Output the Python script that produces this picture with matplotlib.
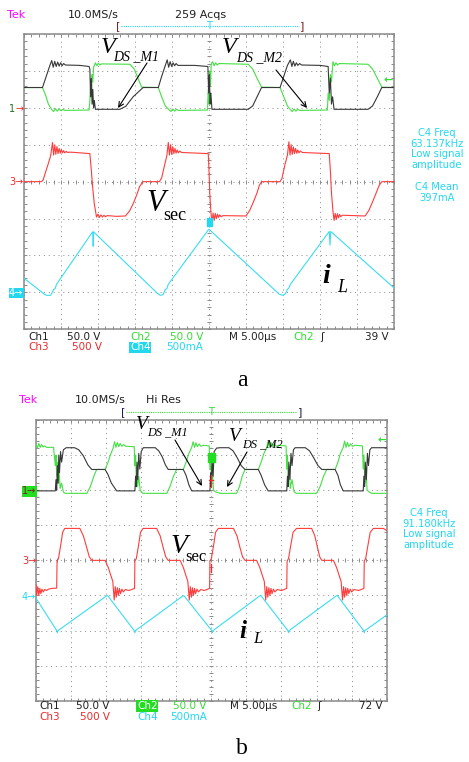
import numpy as np
import matplotlib
matplotlib.use("Agg")
import matplotlib.pyplot as plt
from matplotlib.ticker import MultipleLocator
from matplotlib.patches import Rectangle

W, H = 469, 762

# ---- traces, in scope divisions (x: 0..10, y: -4..4) ----
# panel a
a_ch1 = [(0.0, 2.55), (0.50, 2.55), (0.60, 2.85), (0.70, 3.15), (0.75, 3.28),
         (0.79, 3.10), (0.83, 3.26), (0.87, 3.12), (0.91, 3.24), (0.95, 3.13),
         (0.99, 3.22), (1.03, 3.14), (1.07, 3.20), (1.12, 3.16), (1.50, 3.15),
         (1.76, 3.12), (1.78, 3.05), (1.80, 2.30), (1.82, 2.80), (1.84, 2.10),
         (1.86, 2.50), (1.88, 2.00), (1.90, 2.20), (1.93, 1.96), (2.59, 1.96),
         (2.75, 2.04), (2.95, 2.30), (3.22, 2.55), (3.63, 2.55), (3.72, 2.85),
         (3.82, 3.15), (3.87, 3.30), (3.91, 3.10), (3.95, 3.25), (3.99, 3.12),
         (4.03, 3.22), (4.07, 3.14), (4.11, 3.20), (4.16, 3.15), (4.60, 3.15),
         (4.97, 3.12), (4.99, 2.40), (5.01, 2.90), (5.03, 2.10), (5.05, 2.40),
         (5.08, 1.96), (6.06, 1.96), (6.18, 2.05), (6.30, 2.30), (6.42, 2.55),
         (6.92, 2.55), (7.02, 2.85), (7.12, 3.15), (7.20, 3.30), (7.24, 3.12),
         (7.28, 3.26), (7.32, 3.13), (7.36, 3.22), (7.40, 3.15), (7.45, 3.20),
         (7.50, 3.16), (8.00, 3.15), (8.22, 3.12), (8.25, 2.40), (8.28, 2.80),
         (8.31, 2.10), (8.34, 2.30), (8.38, 1.96), (9.30, 1.96), (9.42, 2.05),
         (9.55, 2.30), (9.67, 2.55), (10.0, 2.55)]
a_ch2 = [(0.0, 2.55), (0.50, 2.55), (0.58, 2.35), (0.66, 2.10), (0.75, 1.95),
         (0.80, 1.90), (0.85, 1.98), (0.90, 1.91), (0.95, 1.97), (1.00, 1.92),
         (1.05, 1.96), (1.10, 1.93), (1.76, 1.94), (1.78, 2.20), (1.80, 2.60),
         (1.82, 2.30), (1.84, 2.90), (1.86, 2.70), (1.88, 3.10), (1.93, 3.22),
         (1.97, 3.14), (2.01, 3.21), (2.05, 3.16), (2.10, 3.19), (2.86, 3.18),
         (2.98, 3.05), (3.08, 2.80), (3.18, 2.56), (3.63, 2.55), (3.72, 2.30),
         (3.82, 2.05), (3.92, 1.95), (3.97, 1.90), (4.02, 1.97), (4.07, 1.91),
         (4.12, 1.96), (4.17, 1.93), (4.96, 1.94), (4.98, 2.50), (5.00, 2.10),
         (5.02, 3.00), (5.04, 2.60), (5.06, 3.20), (5.10, 3.25), (5.14, 3.14),
         (5.18, 3.22), (5.22, 3.16), (5.27, 3.20), (6.06, 3.18), (6.18, 3.05),
         (6.30, 2.80), (6.42, 2.56), (6.92, 2.55), (7.02, 2.30), (7.12, 2.05),
         (7.20, 1.95), (7.25, 1.90), (7.30, 1.97), (7.35, 1.91), (7.40, 1.96),
         (7.45, 1.93), (8.20, 1.94), (8.22, 2.40), (8.25, 2.20), (8.28, 2.90),
         (8.31, 2.70), (8.35, 3.25), (8.39, 3.14), (8.43, 3.22), (8.47, 3.16),
         (8.52, 3.20), (9.30, 3.18), (9.42, 3.05), (9.55, 2.80), (9.67, 2.56),
         (10.0, 2.55)]
a_ch3 = [(0.0, 0.0), (0.47, 0.0), (0.52, 0.05), (0.58, 0.25), (0.66, 0.50),
         (0.72, 0.70), (0.77, 1.06), (0.80, 0.72), (0.83, 1.00), (0.86, 0.74),
         (0.89, 0.95), (0.92, 0.76), (0.95, 0.90), (0.98, 0.77), (1.01, 0.87),
         (1.04, 0.78), (1.07, 0.84), (1.10, 0.78), (1.14, 0.82), (1.18, 0.79),
         (1.25, 0.80), (1.78, 0.76), (1.82, 0.30), (1.86, -0.20), (1.90, -0.60),
         (1.96, -0.96), (2.00, -0.88), (2.04, -0.97), (2.08, -0.90), (2.12, -0.96),
         (2.16, -0.91), (2.20, -0.95), (2.25, -0.92), (2.50, -0.94), (2.74, -0.93),
         (2.85, -0.80), (2.95, -0.60), (3.05, -0.35), (3.13, -0.12), (3.22, 0.0),
         (3.66, 0.0), (3.72, 0.10), (3.80, 0.45), (3.86, 0.70), (3.90, 1.06),
         (3.93, 0.72), (3.96, 1.00), (3.99, 0.74), (4.02, 0.95), (4.05, 0.76),
         (4.08, 0.90), (4.11, 0.77), (4.14, 0.86), (4.17, 0.78), (4.21, 0.83),
         (4.26, 0.79), (4.98, 0.76), (5.00, 0.30), (5.02, -0.30), (5.05, -0.80),
         (5.08, -1.12), (5.11, -0.85), (5.14, -1.05), (5.17, -0.86), (5.20, -1.00),
         (5.23, -0.88), (5.26, -0.97), (5.29, -0.90), (5.33, -0.95), (5.38, -0.92),
         (6.00, -0.93), (6.10, -0.78), (6.20, -0.55), (6.30, -0.30), (6.36, -0.10),
         (6.42, 0.0), (6.92, 0.0), (6.97, 0.08), (7.05, 0.45), (7.12, 0.72),
         (7.16, 1.08), (7.19, 0.72), (7.22, 1.00), (7.25, 0.74), (7.28, 0.94),
         (7.31, 0.76), (7.34, 0.90), (7.37, 0.77), (7.40, 0.86), (7.43, 0.78),
         (7.47, 0.83), (7.52, 0.79), (8.25, 0.76), (8.28, 0.30), (8.31, -0.30),
         (8.35, -0.80), (8.38, -1.05), (8.41, -0.86), (8.44, -1.02), (8.47, -0.87),
         (8.50, -0.98), (8.53, -0.89), (8.56, -0.95), (8.60, -0.91), (9.22, -0.93),
         (9.32, -0.78), (9.42, -0.55), (9.52, -0.30), (9.60, -0.10), (9.67, 0.0),
         (10.0, 0.0)]
a_ch4 = [(0.0, -2.62), (0.30, -2.85), (0.55, -3.05), (0.61, -3.08), (0.72, -3.08),
         (0.80, -2.92), (0.84, -2.90), (0.88, -2.78), (1.84, -1.38), (1.86, -1.36),
         (1.87, -1.75), (1.88, -1.36), (3.60, -3.02), (3.68, -3.08), (3.76, -3.06),
         (3.82, -2.92), (3.86, -2.90), (3.90, -2.78), (4.98, -1.31), (5.00, -1.29),
         (6.90, -3.05), (7.00, -3.08), (7.06, -3.04), (7.12, -2.92), (7.16, -2.88),
         (7.20, -2.78), (8.25, -1.35), (8.27, -1.72), (8.29, -1.35), (10.0, -2.88)]

# panel b
b_ch1 = [(0.0, 1.98), (0.55, 1.98), (0.57, 2.30), (0.59, 2.00), (0.61, 2.70),
         (0.63, 2.20), (0.65, 3.00), (0.67, 2.50), (0.70, 3.10), (0.73, 2.80),
         (0.78, 3.15), (0.86, 3.21), (1.10, 3.21), (1.22, 3.15), (1.35, 2.98),
         (1.48, 2.72), (1.59, 2.59), (1.97, 2.59), (2.05, 2.45), (2.15, 2.20),
         (2.30, 1.98), (2.82, 1.98), (2.84, 2.40), (2.86, 2.10), (2.88, 2.80),
         (2.90, 2.30), (2.93, 3.05), (2.96, 2.60), (3.00, 3.10), (3.06, 3.21),
         (3.40, 3.21), (3.50, 3.12), (3.60, 2.95), (3.69, 2.72), (3.77, 2.59),
         (4.20, 2.59), (4.28, 2.42), (4.36, 2.15), (4.44, 1.98), (4.96, 1.98),
         (4.98, 2.50), (5.00, 2.10), (5.02, 2.90), (5.05, 2.40), (5.08, 3.10),
         (5.15, 3.20), (5.25, 3.21), (5.50, 3.21), (5.62, 3.12), (5.74, 2.92),
         (5.85, 2.70), (5.96, 2.59), (6.34, 2.59), (6.42, 2.42), (6.52, 2.15),
         (6.62, 1.98), (7.15, 1.98), (7.17, 2.40), (7.19, 2.10), (7.21, 2.80),
         (7.24, 2.30), (7.27, 3.05), (7.30, 2.70), (7.34, 3.15), (7.39, 3.21),
         (7.68, 3.21), (7.80, 3.12), (7.92, 2.92), (8.04, 2.70), (8.15, 2.59),
         (8.53, 2.59), (8.61, 2.42), (8.68, 2.15), (8.76, 1.98), (9.33, 1.98),
         (9.35, 2.40), (9.37, 2.10), (9.39, 2.80), (9.42, 2.30), (9.45, 3.05),
         (9.48, 2.70), (9.52, 3.15), (9.57, 3.21), (10.0, 3.21)]
b_ch2 = [(0.0, 3.30), (0.04, 3.20), (0.08, 3.33), (0.12, 3.22), (0.16, 3.30),
         (0.20, 3.23), (0.25, 3.26), (0.30, 3.22), (0.50, 3.22), (0.55, 2.70),
         (0.57, 3.00), (0.59, 2.40), (0.61, 2.80), (0.63, 2.20), (0.66, 2.50),
         (0.69, 2.05), (0.73, 2.20), (0.78, 1.95), (0.83, 1.91), (1.45, 1.91),
         (1.55, 2.10), (1.65, 2.40), (1.73, 2.59), (1.97, 2.59), (2.05, 2.78),
         (2.12, 3.00), (2.20, 3.20), (2.24, 3.38), (2.28, 3.22), (2.32, 3.36),
         (2.36, 3.24), (2.40, 3.33), (2.45, 3.25), (2.50, 3.30), (2.56, 3.25),
         (2.80, 3.24), (2.82, 2.70), (2.84, 3.00), (2.86, 2.30), (2.88, 2.70),
         (2.90, 2.10), (2.93, 2.40), (2.97, 2.00), (3.02, 1.93), (3.06, 1.91),
         (3.73, 1.91), (3.82, 2.10), (3.92, 2.40), (4.01, 2.59), (4.20, 2.59),
         (4.28, 2.80), (4.36, 3.05), (4.44, 3.22), (4.48, 3.38), (4.52, 3.22),
         (4.56, 3.35), (4.60, 3.24), (4.65, 3.32), (4.70, 3.25), (4.78, 3.28),
         (4.94, 3.26), (4.96, 2.60), (4.98, 3.00), (5.00, 2.20), (5.03, 2.60),
         (5.06, 2.00), (5.12, 1.95), (5.25, 1.91), (5.72, 1.91), (5.80, 2.10),
         (5.88, 2.40), (5.96, 2.59), (6.34, 2.59), (6.42, 2.80), (6.50, 3.05),
         (6.58, 3.22), (6.62, 3.40), (6.66, 3.22), (6.70, 3.36), (6.74, 3.24),
         (6.79, 3.32), (6.85, 3.25), (6.92, 3.28), (7.13, 3.26), (7.15, 2.60),
         (7.17, 3.00), (7.19, 2.30), (7.22, 2.70), (7.25, 2.05), (7.30, 2.30),
         (7.36, 1.95), (7.43, 1.91), (8.00, 1.91), (8.10, 2.10), (8.20, 2.40),
         (8.29, 2.59), (8.53, 2.59), (8.61, 2.80), (8.68, 3.05), (8.76, 3.22),
         (8.80, 3.40), (8.84, 3.22), (8.88, 3.36), (8.92, 3.24), (8.97, 3.32),
         (9.03, 3.25), (9.10, 3.28), (9.31, 3.26), (9.33, 2.60), (9.35, 3.00),
         (9.38, 2.20), (9.41, 2.60), (9.44, 2.00), (9.50, 1.95), (9.57, 1.91),
         (10.0, 1.91)]
b_ch3 = [(0.0, -0.70), (0.02, -1.00), (0.05, -0.75), (0.08, -1.00), (0.11, -0.80),
         (0.14, -0.95), (0.17, -0.82), (0.21, -0.90), (0.25, -0.83), (0.30, -0.86),
         (0.36, -0.82), (0.45, -0.80), (0.59, -0.79), (0.60, -0.02), (0.64, 0.05),
         (0.70, 0.40), (0.76, 0.80), (0.82, 0.91), (1.25, 0.91), (1.35, 0.70),
         (1.45, 0.35), (1.52, 0.10), (1.59, 0.0), (1.97, 0.0), (2.06, -0.20),
         (2.14, -0.45), (2.19, -0.60), (2.23, -1.13), (2.26, -0.75), (2.29, -1.05),
         (2.32, -0.78), (2.35, -1.00), (2.38, -0.80), (2.41, -0.95), (2.45, -0.82),
         (2.49, -0.90), (2.55, -0.83), (2.65, -0.86), (2.81, -0.80), (2.82, -0.02),
         (2.86, 0.05), (2.92, 0.40), (2.98, 0.80), (3.05, 0.91), (3.44, 0.91),
         (3.54, 0.70), (3.63, 0.35), (3.70, 0.10), (3.77, 0.0), (4.11, 0.0),
         (4.20, -0.20), (4.28, -0.45), (4.33, -0.60), (4.37, -1.13), (4.40, -0.75),
         (4.43, -1.05), (4.46, -0.78), (4.49, -1.00), (4.52, -0.80), (4.55, -0.95),
         (4.59, -0.82), (4.63, -0.90), (4.70, -0.83), (4.80, -0.86), (4.95, -0.80),
         (4.96, -0.02), (5.00, 0.05), (5.06, 0.40), (5.12, 0.80), (5.20, 0.91),
         (5.63, 0.91), (5.73, 0.70), (5.82, 0.35), (5.89, 0.10), (5.96, 0.0),
         (6.29, 0.0), (6.38, -0.20), (6.46, -0.45), (6.51, -0.60), (6.55, -1.13),
         (6.58, -0.75), (6.61, -1.05), (6.64, -0.78), (6.67, -1.00), (6.70, -0.80),
         (6.73, -0.95), (6.77, -0.82), (6.81, -0.90), (6.88, -0.83), (7.00, -0.86),
         (7.15, -0.80), (7.16, -0.02), (7.20, 0.05), (7.26, 0.40), (7.33, 0.80),
         (7.43, 0.91), (7.86, 0.91), (7.95, 0.70), (8.03, 0.35), (8.09, 0.10),
         (8.15, 0.0), (8.48, 0.0), (8.57, -0.20), (8.65, -0.45), (8.70, -0.60),
         (8.74, -1.13), (8.77, -0.75), (8.80, -1.05), (8.83, -0.78), (8.86, -1.00),
         (8.89, -0.80), (8.92, -0.95), (8.96, -0.82), (9.00, -0.90), (9.07, -0.83),
         (9.20, -0.86), (9.35, -0.80), (9.36, -0.02), (9.40, 0.05), (9.46, 0.40),
         (9.53, 0.80), (9.62, 0.91), (9.90, 0.91), (10.0, 0.85)]
b_ch4 = [(0.0, -1.08), (0.59, -2.00), (0.61, -2.06), (0.63, -2.00), (2.00, -1.02),
         (2.04, -1.00), (2.80, -2.00), (2.82, -2.06), (2.84, -2.00), (4.18, -1.02),
         (4.22, -1.01), (5.01, -2.00), (5.03, -2.06), (5.05, -2.00), (6.37, -1.02),
         (6.41, -1.00), (7.18, -2.00), (7.20, -2.06), (7.22, -2.00), (8.55, -1.02),
         (8.59, -1.00), (9.34, -2.00), (9.36, -2.06), (9.38, -2.00), (10.0, -1.56)]

# readouts
a_bottom1 = [("Ch1", 28, "k"), ("50.0 V", 67, "k"), ("Ch2", 130, "g"), ("50.0 V", 170, "g"),
             ("M 5.00\u00b5s", 229, "k"), ("Ch2", 293, "g"), ("\u0283", 320, "k"), ("39 V", 365, "k")]
a_bottom2 = [("Ch3", 28, "r"), ("500 V", 72, "r"), ("500mA", 166, "c")]
b_bottom1 = [("Ch1", 39, "k"), ("50.0 V", 76, "k"), ("50.0 V", 173, "g"),
             ("M 5.00\u00b5s", 230, "k"), ("Ch2", 291, "g"), ("\u0283", 317, "k"), ("72 V", 359, "k")]
b_bottom2 = [("Ch3", 39, "r"), ("500 V", 80, "r"), ("Ch4", 137, "c"), ("500mA", 170, "c")]
a_meas = ["C4 Freq", "63.137kHz", "Low signal", "amplitude", "C4 Mean", "397mA"]
b_meas = ["C4 Freq", "91.180kHz", "Low signal", "amplitude"]

COL = {"k": "#202020", "g": "#33dd33", "r": "#ee2a2a", "c": "#22d8ee"}
TRACE = {"k": "#383838", "g": "#44e044", "r": "#ff3c3c", "c": "#3adcf2"}
GRID = "#8a8a8a"
SERIF = "Liberation Serif"

plt.rcParams["font.family"] = ["DejaVu Sans"]


def unzip(pts):
    return [p[0] for p in pts], [p[1] for p in pts]


def graticule(ax):
    ax.set_xlim(0, 10)
    ax.set_ylim(-4, 4)
    ax.set_xticks(range(11))
    ax.set_yticks(range(-4, 5))
    ax.xaxis.set_minor_locator(MultipleLocator(0.2))
    ax.yaxis.set_minor_locator(MultipleLocator(0.2))
    ax.tick_params(which="both", direction="in", length=2.2, width=0.7, color=GRID,
                   top=True, right=True, labelbottom=False, labelleft=False)
    ax.grid(True, which="major", color=GRID, lw=0.7, ls=(0, (1, 4)))
    for s in ax.spines.values():
        s.set_color(GRID)
        s.set_linewidth(1.1)
    # centre crosshair with 0.2 div ticks
    xs = np.arange(0, 10.01, 0.2)
    ys = np.arange(-4, 4.01, 0.2)
    ax.plot(xs, np.zeros_like(xs), ls="none", marker="|", ms=3.2, mew=0.7, color=GRID)
    ax.plot(np.full_like(ys, 5.0), ys, ls="none", marker="_", ms=3.2, mew=0.7, color=GRID)


def traces(ax, chans):
    for pts, c in chans:
        t, v = unzip(pts)
        ax.plot(t, v, color=TRACE[c], lw=0.8, zorder=3)


fig = plt.figure(figsize=(W / 100, H / 100), dpi=100)
axa = fig.add_axes([24 / W, 1 - 329.3 / H, 370 / W, 295.3 / H])
axb = fig.add_axes([36 / W, 1 - 700.7 / H, 350.7 / W, 280.7 / H])
for ax in (axa, axb):
    graticule(ax)
traces(axa, [(a_ch4, "c"), (a_ch3, "r"), (a_ch2, "g"), (a_ch1, "k")])
traces(axb, [(b_ch4, "c"), (b_ch3, "r"), (b_ch2, "g"), (b_ch1, "k")])

# overlay in pixel coordinates for all the annotation
ov = fig.add_axes([0, 0, 1, 1])
ov.set_xlim(0, W)
ov.set_ylim(H, 0)
ov.axis("off")
ov.patch.set_visible(False)


def t(x, y, s, size=7.5, color="#202020", ha="left", va="center", **kw):
    ov.text(x, y, s, fontsize=size, color=color, ha=ha, va=va, **kw)


def header(y, items, brk, tcol, bcol):
    t(items[0][1], y, items[0][0], size=8, color="#ff00ff")
    for s, x in items[1:]:
        t(x, y, s, size=8)
    yb, x0, x1, xt = brk
    t(x0, yb, "[", size=8, color=bcol, ha="center")
    t(x1, yb, "]", size=8, color=bcol, ha="center")
    ov.plot([x0 + 3, x1 - 3], [yb, yb], color=tcol, lw=0.8, ls=(0, (1, 1)))
    t(xt, yb, "T", size=7, color=tcol, ha="center")


header(15, [("Tek", 7), ("10.0MS/s", 68), ("259 Acqs", 175)], (26, 118, 302, 209),
       COL["c"], "#802020")
header(400, [("Tek", 19), ("10.0MS/s", 75), ("Hi Res", 146)], (412, 123, 300, 211),
       COL["g"], "#202050")

# bottom readouts
for s, x, c in a_bottom1:
    t(x, 336.5, s, color=COL[c])
for s, x, c in a_bottom2:
    t(x, 347.5, s, color=COL[c])
t(130, 347.5, "Ch4", color="white", bbox=dict(fc=COL["c"], ec="none", pad=0.4))
for s, x, c in b_bottom1:
    t(x, 706, s, color=COL[c])
t(137, 706, "Ch2", color="white", bbox=dict(fc="#22dd22", ec="none", pad=0.4))
for s, x, c in b_bottom2:
    t(x, 716.5, s, color=COL[c])

# measurement readouts
for s, y in zip(a_meas, [133.3, 143.8, 154.3, 164.8, 187.3, 198.3]):
    t(437, y, s, size=7.2, color=COL["c"], ha="center")
for s, y in zip(b_meas, [513.3, 523.8, 534.3, 544.8]):
    t(429, y, s, size=7.2, color=COL["c"], ha="center")

# channel ground markers
t(9, 109, "1", size=7, color="#207020")
t(15, 109, "\u2192", size=7, color=COL["r"])
t(9, 182, "3\u2192", size=7, color=COL["r"])
t(9, 293, "4\u2192", size=7, color="white", bbox=dict(fc=COL["c"], ec="none", pad=0.3))
t(22, 491.5, "1\u2192", size=7, color="#802020", bbox=dict(fc="#22dd22", ec="none", pad=0.3))
t(22, 561, "3\u2192", size=7, color=COL["r"])
t(22, 597, "4\u2192", size=7, color=COL["c"])
t(393, 80, "\u2190", size=8, color=COL["g"], ha="right", weight="bold")
t(387, 440, "\u2190", size=8, color=COL["g"], ha="right", weight="bold")
ov.add_patch(Rectangle((206.5, 218), 5, 8, color=COL["c"], zorder=4))
ov.add_patch(Rectangle((207.5, 453), 7, 9, color="#22dd22", zorder=4))
ov.plot([211, 211], [475, 487], color=COL["r"], lw=0.9)
ov.plot([209, 213], [480, 480], color=COL["r"], lw=0.9)
ov.plot([211, 211], [564, 572], color=COL["r"], lw=0.9)

# waveform labels
def vlabel(x, y, big, sub, xs, ys, bsize, ssize, bold=False, sub_italic=True):
    ov.text(x, y, big, fontsize=bsize, family=SERIF, style="italic",
            weight="bold" if bold else "normal", va="baseline")
    ov.text(xs, ys, sub, fontsize=ssize, family=SERIF,
            style="italic" if sub_italic else "normal", va="baseline")


vlabel(101, 53, "V", "DS _M1", 113, 60, 17.5, 10)
vlabel(222, 53, "V", "DS _M2", 236, 61, 17.5, 10)
vlabel(146, 211, "V", "sec", 163, 220, 22, 13, sub_italic=False)
vlabel(322, 283, "i", "L", 337, 292, 20, 13, bold=True)
vlabel(136, 429, "V", "DS _M1", 147, 435, 14, 8.8)
vlabel(229, 441, "V", "DS _M2", 242, 447, 14, 8.8)
vlabel(171, 553, "V", "sec", 185, 561, 20, 12, sub_italic=False)
vlabel(239, 638, "i", "L", 253, 643, 18, 12, bold=True)

arrows = [((147, 63), (118, 108)), ((276, 70), (307, 108)),
          ((175, 440), (202, 486)), ((247, 452), (227, 487))]
for (x0, y0), (x1, y1) in arrows:
    ov.annotate("", xy=(x1, y1), xytext=(x0, y0),
                arrowprops=dict(arrowstyle="->", color="black", lw=0.8,
                                shrinkA=0, shrinkB=0, mutation_scale=9))

ov.text(242, 381, "a", fontsize=17, family=SERIF, ha="center", va="center")
ov.text(242, 749, "b", fontsize=17, family=SERIF, ha="center", va="center")

fig.savefig("out.png", dpi=100)
